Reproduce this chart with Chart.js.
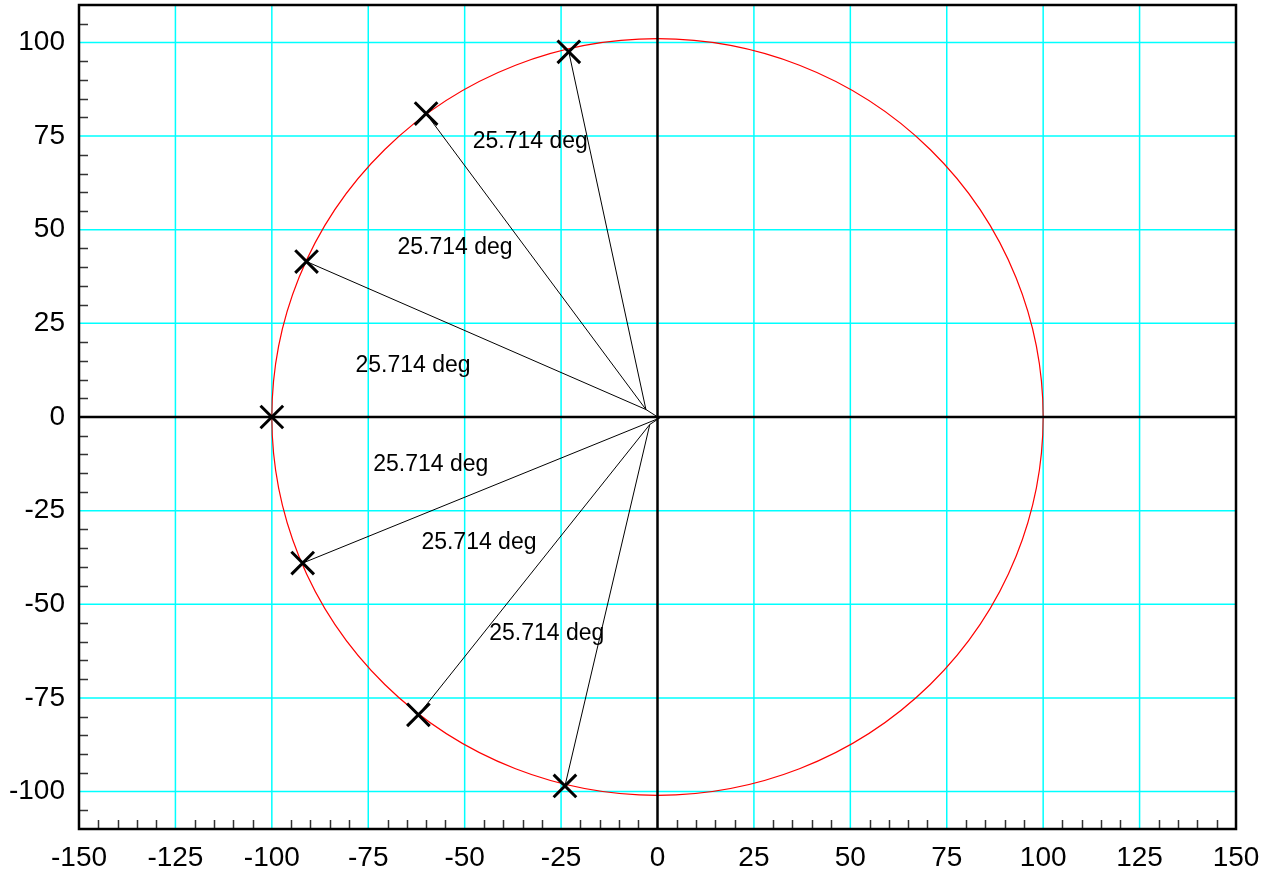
<!DOCTYPE html>
<html>
<head>
<meta charset="utf-8">
<script src="https://cdn.jsdelivr.net/npm/chart.js@4/dist/chart.umd.min.js"></script>
<style>
  html, body { margin: 0; padding: 0; background: #fff; }
  canvas { display: block; }
</style>
</head>
<body>
<canvas id="poleChart" width="1278" height="876"></canvas>
<script>
// axis ticks
const xTicks = [-150, -125, -100, -75, -50, -25, 0, 25, 50, 75, 100, 125, 150];
const yTicks = [-100, -75, -50, -25, 0, 25, 50, 75, 100];
const minorStep = 5;

// poles (X markers)
const poleX = [-23, -60, -91, -100, -92, -62, -24];
const poleY = [97.5, 81, 41.5, 0, -39, -79.5, -98.5];

// spokes: pole index -> end point near origin
const spokeFrom = [0, 1, 2, 4, 5, 6];
const spokeEndX = [-3, -3, -3, 0.5, -2, -2];
const spokeEndY = [2, 2, 2, -0.3, -2, -2];
const linkX = [-3, 0.5, -2];
const linkY = [2, -0.3, -2];

// unit circle (drawn as ellipse in data units)
const circleRx = 100;
const circleRy = 101;

// angle labels
const labelText = "25.714 deg";
const labelX = [-33, -52.5, -63.4, -58.8, -46.3, -28.7];
const labelY = [73.6, 45.3, 13.8, -12.6, -33.5, -57.8];

const FONT = "'Liberation Sans', Arial, Helvetica, sans-serif";

const datasets = [
  {
    label: "poles",
    data: poleX.map((x, i) => ({ x, y: poleY[i] })),
    showLine: false,
    pointStyle: "crossRot",
    pointRadius: 16,
    pointBorderWidth: 3,
    pointBorderColor: "#000",
    pointBackgroundColor: "#000",
    order: 0,
  },
];
spokeFrom.forEach((p, i) => {
  datasets.push({
    label: "spoke" + i,
    data: [
      { x: poleX[p], y: poleY[p] },
      { x: spokeEndX[i], y: spokeEndY[i] },
    ],
    showLine: true,
    borderColor: "#000",
    borderWidth: 1,
    pointRadius: 0,
    order: 1,
  });
});
datasets.push({
  label: "link",
  data: [
    { x: linkX[0], y: linkY[0] },
    { x: linkX[1], y: linkY[1] },
    { x: linkX[2], y: linkY[2] },
  ],
  showLine: true,
  borderColor: "#000",
  borderWidth: 1,
  pointRadius: 0,
  order: 1,
});

// grid, circle, minor ticks, frame, labels
const decorations = {
  id: "decorations",
  beforeDatasetsDraw(chart) {
    const { ctx, chartArea, scales } = chart;
    const { left, right, top, bottom } = chartArea;
    ctx.save();
    ctx.beginPath();
    ctx.rect(left, top, right - left, bottom - top);
    ctx.clip();

    // cyan grid
    ctx.strokeStyle = "#00ffff";
    ctx.lineWidth = 1.5;
    ctx.beginPath();
    xTicks.forEach((v) => {
      if (v === 0) return;
      const px = scales.x.getPixelForValue(v);
      ctx.moveTo(px, top);
      ctx.lineTo(px, bottom);
    });
    yTicks.forEach((v) => {
      if (v === 0) return;
      const py = scales.y.getPixelForValue(v);
      ctx.moveTo(left, py);
      ctx.lineTo(right, py);
    });
    ctx.stroke();

    // circle
    const cx = scales.x.getPixelForValue(0);
    const cy = scales.y.getPixelForValue(0);
    const rx = Math.abs(scales.x.getPixelForValue(circleRx) - cx);
    const ry = Math.abs(scales.y.getPixelForValue(circleRy) - cy);
    ctx.beginPath();
    ctx.ellipse(cx, cy, rx, ry, 0, 0, Math.PI * 2);
    ctx.strokeStyle = "#ff0000";
    ctx.lineWidth = 1.2;
    ctx.stroke();

    // zero axes
    ctx.strokeStyle = "#000";
    ctx.lineWidth = 2.5;
    ctx.beginPath();
    ctx.moveTo(cx, top);
    ctx.lineTo(cx, bottom);
    ctx.moveTo(left, cy);
    ctx.lineTo(right, cy);
    ctx.stroke();
    ctx.restore();
  },
  afterDatasetsDraw(chart) {
    const { ctx, chartArea, scales } = chart;
    ctx.save();
    // minor ticks
    ctx.strokeStyle = "#333";
    ctx.lineWidth = 1.5;
    ctx.beginPath();
    for (let v = scales.x.min; v <= scales.x.max; v += minorStep) {
      if (v % 25 === 0) continue;
      const px = Math.round(scales.x.getPixelForValue(v)) + 0.5;
      ctx.moveTo(px, chartArea.bottom);
      ctx.lineTo(px, chartArea.bottom - 9);
    }
    for (let v = -105; v <= 105; v += minorStep) {
      if (v % 25 === 0) continue;
      const py = Math.round(scales.y.getPixelForValue(v)) + 0.5;
      ctx.moveTo(chartArea.left, py);
      ctx.lineTo(chartArea.left + 9, py);
    }
    ctx.stroke();
    // frame
    ctx.strokeStyle = "#000";
    ctx.lineWidth = 2.5;
    ctx.strokeRect(chartArea.left, chartArea.top, chartArea.width, chartArea.height);
    // labels
    ctx.fillStyle = "#000";
    ctx.font = "23px " + FONT;
    ctx.textAlign = "center";
    ctx.textBaseline = "middle";
    labelX.forEach((x, i) => {
      ctx.fillText(labelText, scales.x.getPixelForValue(x), scales.y.getPixelForValue(labelY[i]));
    });
    ctx.restore();
  },
};

new Chart(document.getElementById("poleChart"), {
  type: "scatter",
  data: { datasets },
  options: {
    responsive: false,
    animation: false,
    devicePixelRatio: 1,
    layout: { autoPadding: false, padding: { top: 5, right: 42, left: 0, bottom: 0 } },
    plugins: {
      legend: { display: false },
      tooltip: { enabled: false },
    },
    scales: {
      x: {
        type: "linear",
        min: -150,
        max: 150,
        afterBuildTicks: (scale) => {
          scale.ticks = xTicks.map((value) => ({ value }));
        },
        afterFit: (scale) => {
          scale.height = 47;
        },
        border: { display: false },
        grid: { display: false, drawTicks: false },
        ticks: {
          color: "#000",
          font: { family: FONT, size: 28 },
          padding: 12,
          maxRotation: 0,
          autoSkip: false,
        },
      },
      y: {
        type: "linear",
        min: -110,
        max: 110,
        afterBuildTicks: (scale) => {
          scale.ticks = yTicks.map((value) => ({ value }));
        },
        afterFit: (scale) => {
          scale.width = 79;
        },
        border: { display: false },
        grid: {
          display: true,
          drawOnChartArea: false,
          drawTicks: true,
          tickLength: 14,
          color: "transparent",
          tickColor: "transparent",
        },
        ticks: {
          color: "#000",
          font: { family: FONT, size: 28, lineHeight: 0.2 },
          padding: 0,
          autoSkip: false,
        },
      },
    },
  },
  plugins: [decorations],
});
</script>
</body>
</html>
